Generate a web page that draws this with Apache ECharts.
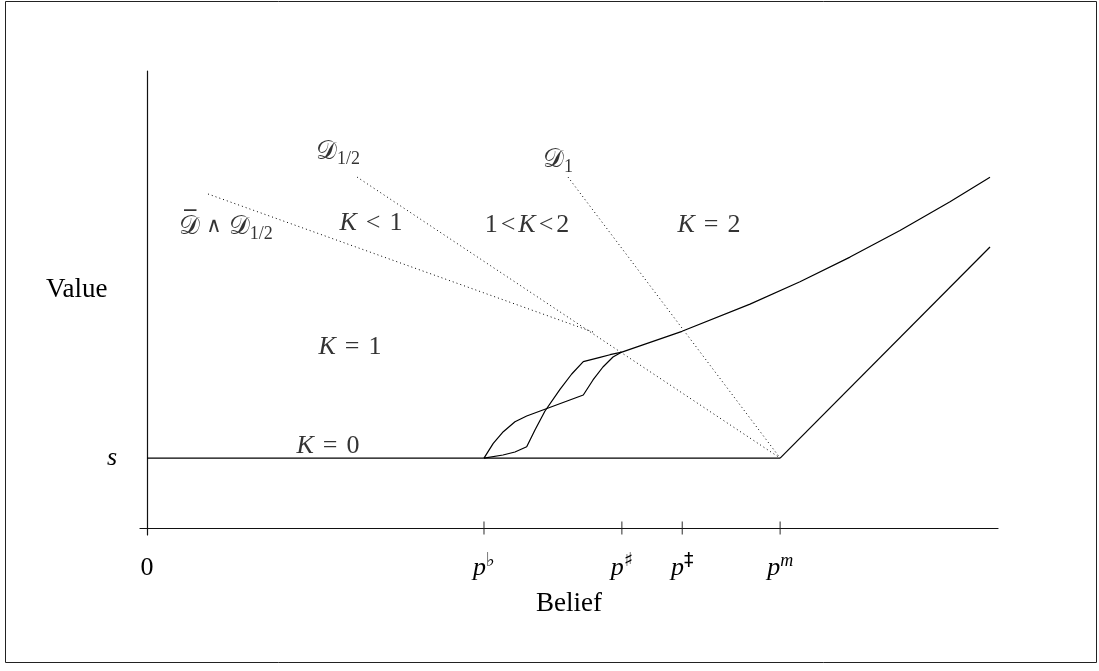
<!DOCTYPE html>
<html>
<head>
<meta charset="utf-8">
<script src="https://cdn.jsdelivr.net/npm/echarts@6/dist/echarts.min.js"></script>
<style>
html, body { margin: 0; padding: 0; background: #fff; }
#main { width: 1099px; height: 671px; }
</style>
</head>
<body>
<div id="main"></div>
<script>
// threshold payoff s and the belief cutoffs on the axis
var S = 0.153;
var tickValues = [0, 0.396, 0.558, 0.629, 0.744];
var tickLabels = ['{n|0}', '{i|p}{sup|♭}', '{i|p}{sup|♯}', '{i|p}{sup|‡}', '{i|p}{supi|m}'];

// value function pieces
var flatPart = [[0, S], [0.744, S]];
var upperCurve = [[0.558, 0.385], [0.6287, 0.4304], [0.7086, 0.4899], [0.7673, 0.5389],
    [0.8261, 0.5928], [0.8848, 0.651], [0.9436, 0.714], [0.9906, 0.7676]];
var lowerLine = [[0.744, S], [0.9906, 0.6149]];
var loopA = [[0.396, S], [0.4069, 0.1853], [0.4187, 0.2107], [0.4324, 0.2326], [0.4462, 0.2451],
    [0.5127, 0.291], [0.5241, 0.3239], [0.5358, 0.3523], [0.5476, 0.3742], [0.558, 0.385]];
var loopB = [[0.396, S], [0.4183, 0.1597], [0.4324, 0.1663], [0.4462, 0.1779], [0.4559, 0.2144],
    [0.4677, 0.256], [0.4853, 0.3035], [0.4991, 0.337], [0.5127, 0.3639], [0.5323, 0.3735],
    [0.5441, 0.3792], [0.558, 0.385]];

// dotted boundaries
var dBarHalf = [[0.0717, 0.7309], [0.5241, 0.4289]];
var dHalf = [[0.2468, 0.768], [0.744, S]];
var dOne = [[0.4947, 0.768], [0.744, S]];

// region labels
var notes = [
    [0.2244, 0.8228, '{cal|𝒟}{sub|1/2}'],
    [0.483, 0.8053, '{cal|𝒟}{sub|1}'],
    [0.0928, 0.6586, '{cal|𝒟}{wedge|∧}{cal|𝒟}{sub|1/2}'],
    [0.0508, 0.671, '{bar|‾}'],
    [0.2632, 0.6674, '{i|K}{op|<}{n|1}'],
    [0.4465, 0.663, '{n|1}{opt|<}{i|K}{opt|<}{n|2}'],
    [0.6604, 0.663, '{i|K}{op|=}{n|2}'],
    [0.2385, 0.3961, '{i|K}{op|=}{n|1}'],
    [0.2127, 0.1794, '{i|K}{op|=}{n|0}']
];

var FONT = 'Liberation Serif';
var rich = {
    n: { fontFamily: FONT, fontSize: 26, lineHeight: 32, color: '#000' },
    i: { fontFamily: FONT, fontStyle: 'italic', fontSize: 26, lineHeight: 32, color: '#000' },
    op: { fontFamily: FONT, fontSize: 26, lineHeight: 32, color: '#000', padding: [0, 9, 0, 9] },
    opt: { fontFamily: FONT, fontSize: 26, lineHeight: 32, color: '#000', padding: [0, 3, 0, 3] },
    wedge: { fontFamily: 'DejaVu Sans', fontSize: 21, lineHeight: 32, color: '#000', padding: [0, 7, 0, 6] },
    bar: { fontFamily: 'DejaVu Sans', fontSize: 24, lineHeight: 32, color: '#000' },
    cal: { fontFamily: 'DejaVu Sans', fontSize: 26, lineHeight: 32, color: '#000' },
    sub: { fontFamily: FONT, fontSize: 18, lineHeight: 14, verticalAlign: 'bottom', color: '#000' },
    sup: { fontFamily: 'DejaVu Sans', fontSize: 19, lineHeight: 18, verticalAlign: 'top', color: '#000' },
    supi: { fontFamily: FONT, fontStyle: 'italic', fontSize: 18, lineHeight: 18, verticalAlign: 'top', color: '#000' }
};

function solid(data) {
    return {
        type: 'line', data: data, symbol: 'none', silent: true,
        lineStyle: { color: '#000', width: 1.2 }
    };
}
function dotted(data) {
    return {
        type: 'line', data: data, symbol: 'none', silent: true,
        lineStyle: { color: '#000', width: 1, type: [1, 3] }
    };
}

var chart = echarts.init(document.getElementById('main'));
var option = {
    animation: false,
    title: {
        text: 'Value', left: 41, top: 271,
        textStyle: { fontFamily: FONT, fontSize: 27, fontWeight: 'normal', color: '#000' }
    },
    graphic: [{
        type: 'rect', shape: { x: 5.5, y: 1.5, width: 1091, height: 661 },
        style: { fill: 'none', stroke: '#222', lineWidth: 1 }, silent: true
    }],
    grid: { left: 140, right: 101, top: 71, bottom: 136 },
    xAxis: {
        type: 'value', min: -0.0082, max: 1,
        splitLine: { show: false },
        axisLine: { onZero: true, lineStyle: { color: '#111', width: 1.2 } },
        axisTick: { show: false },
        axisLabel: {
            customValues: tickValues, margin: 17,
            formatter: function (v) {
                var k = tickValues.indexOf(v);
                return k < 0 ? '' : tickLabels[k];
            },
            rich: rich
        },
        name: 'Belief', nameLocation: 'middle', nameGap: 55,
        nameTextStyle: { fontFamily: FONT, fontSize: 27, color: '#000' }
    },
    yAxis: {
        type: 'value', min: -0.0153, max: 1,
        splitLine: { show: false },
        axisLine: { onZero: true, lineStyle: { color: '#111', width: 1.2 } },
        axisTick: { show: false },
        axisLabel: {
            customValues: [S], margin: 23,
            formatter: function () { return '{i|s}'; },
            rich: rich
        }
    },
    series: [
        solid(flatPart), solid(upperCurve), solid(lowerLine), solid(loopA), solid(loopB),
        dotted(dBarHalf), dotted(dHalf), dotted(dOne),
        {
            // tick marks crossing the belief axis
            type: 'scatter', silent: true, symbol: 'rect', symbolSize: [1.2, 13],
            itemStyle: { color: '#222' },
            data: tickValues.slice(1).map(function (v) { return [v, 0]; })
        },
        {
            type: 'scatter', silent: true, symbolSize: 1, clip: false,
            itemStyle: { color: 'rgba(0,0,0,0)' },
            label: {
                show: true, position: 'inside',
                formatter: function (p) { return p.data[2]; },
                rich: rich
            },
            labelLayout: { hideOverlap: false },
            data: notes
        }
    ]
};
chart.setOption(option);
</script>
</body>
</html>
